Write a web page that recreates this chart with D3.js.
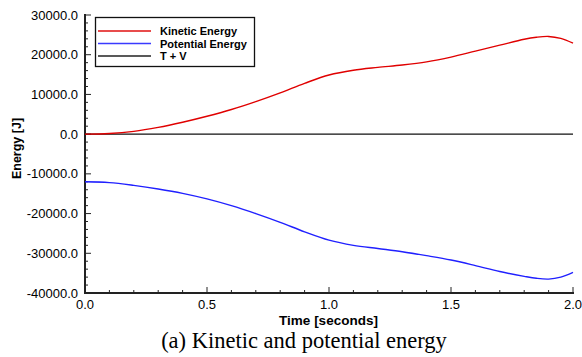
<!DOCTYPE html>
<html>
<head>
<meta charset="utf-8">
<script src="https://cdn.jsdelivr.net/npm/d3@7"></script>
<style>
  body { margin: 0; background: #fff; }
  svg { display: block; font-family: "Liberation Sans", Arial, sans-serif; }
</style>
</head>
<body>
<svg id="chart" width="582" height="357"></svg>
<script>
// time samples (seconds)
var times = [0, 0.1, 0.2, 0.3, 0.4, 0.5, 0.6, 0.7, 0.8, 0.9, 1.0, 1.1, 1.2, 1.3, 1.4, 1.5, 1.6, 1.7, 1.8, 1.85, 1.9, 1.95, 2.0];
// kinetic energy [J]
var kinetic = [0, 150, 700, 1700, 3000, 4500, 6200, 8200, 10400, 12800, 14900, 16100, 16800, 17400, 18200, 19400, 20900, 22400, 23900, 24400, 24600, 24100, 22900];
// potential energy [J]
var potential = [-12000, -12200, -12900, -13800, -14900, -16300, -18000, -20000, -22200, -24600, -26700, -28000, -28800, -29600, -30600, -31700, -33100, -34600, -35800, -36300, -36500, -36000, -34800];
// T + V as drawn
var total = [0, 0];
var totalTimes = [0, 2.0];

var yTicks = [-40000, -30000, -20000, -10000, 0, 10000, 20000, 30000];
var xTicks = [0, 0.5, 1.0, 1.5, 2.0];

var legendNames = ["Kinetic Energy", "Potential Energy", "T + V"];
var legendColors = ["#e01010", "#3a3aff", "#222"];

var svg = d3.select("#chart");

var x = d3.scaleLinear().domain([0, 2]).range([85, 573]);
var y = d3.scaleLinear().domain([-40000, 30000]).range([293, 15]);

// minor ticks
var g = svg.append("g");
g.selectAll(".ymin")
  .data(d3.range(-40000, 30001, 2000))
  .enter().append("line")
    .attr("x1", 85).attr("x2", d => yTicks.includes(d) ? 91 : 88)
    .attr("y1", d => y(d)).attr("y2", d => y(d))
    .attr("stroke", "#222").attr("stroke-width", 1);

g.selectAll(".xmin")
  .data(d3.range(0, 21).map(i => i / 10))
  .enter().append("line")
    .attr("y1", 293).attr("y2", (d, i) => i % 5 == 0 ? 287 : 290)
    .attr("x1", d => x(d)).attr("x2", d => x(d))
    .attr("stroke", "#222").attr("stroke-width", 1);

// axis lines
svg.append("line").attr("x1", 85).attr("x2", 85).attr("y1", 14).attr("y2", 294)
  .attr("stroke", "#222").attr("stroke-width", 2);
svg.append("line").attr("x1", 84).attr("x2", 574).attr("y1", 293).attr("y2", 293)
  .attr("stroke", "#222").attr("stroke-width", 2);

// tick labels
svg.selectAll(".ylab")
  .data(yTicks)
  .enter().append("text")
    .attr("x", 78).attr("y", d => y(d) + 4.5)
    .attr("text-anchor", "end")
    .attr("font-size", 13)
    .text(d => d.toFixed(1));

svg.selectAll(".xlab")
  .data(xTicks)
  .enter().append("text")
    .attr("x", d => x(d)).attr("y", 309)
    .attr("text-anchor", "middle")
    .attr("font-size", 13)
    .text(d => d.toFixed(1));

// axis titles
svg.append("text")
  .attr("transform", "translate(21,148.5) rotate(-90)")
  .attr("text-anchor", "middle")
  .attr("font-size", 12.5).attr("font-weight", "bold")
  .text("Energy [J]");

svg.append("text")
  .attr("x", 328.5).attr("y", 324.5)
  .attr("text-anchor", "middle")
  .attr("font-size", 13.5).attr("font-weight", "bold")
  .text("Time [seconds]");

svg.append("text")
  .attr("x", 304).attr("y", 347.5)
  .attr("text-anchor", "middle")
  .attr("font-family", "'Liberation Serif', 'Times New Roman', serif")
  .attr("font-size", 22.5)
  .text("(a) Kinetic and potential energy");

// curves
var line = d3.line()
  .x(d => x(d[0]))
  .y(d => y(d[1]))
  .curve(d3.curveCatmullRom.alpha(0.5));

svg.append("path")
  .attr("d", line(d3.zip(totalTimes, total)))
  .attr("fill", "none").attr("stroke", "#111").attr("stroke-width", 1.4);

svg.append("path")
  .attr("d", line(d3.zip(times, kinetic)))
  .attr("fill", "none").attr("stroke", "#e00000").attr("stroke-width", 1.4);

svg.append("path")
  .attr("d", line(d3.zip(times, potential)))
  .attr("fill", "none").attr("stroke", "#2020ff").attr("stroke-width", 1.4);

// legend
var leg = svg.append("g");
leg.append("rect")
  .attr("x", 95.5).attr("y", 17.5).attr("width", 159).attr("height", 49)
  .attr("fill", "#fff").attr("stroke", "#111").attr("stroke-width", 1.3);

leg.selectAll(".lline")
  .data(legendNames)
  .enter().append("line")
    .attr("x1", 98).attr("x2", 151)
    .attr("y1", (d, i) => 31 + i * 12.5).attr("y2", (d, i) => 31 + i * 12.5)
    .attr("stroke", (d, i) => legendColors[i]).attr("stroke-width", 1.4);

leg.selectAll(".ltext")
  .data(legendNames)
  .enter().append("text")
    .attr("x", 160).attr("y", (d, i) => 35 + i * 12.5)
    .attr("font-size", 11).attr("font-weight", "bold")
    .text(d => d);
</script>
</body>
</html>
